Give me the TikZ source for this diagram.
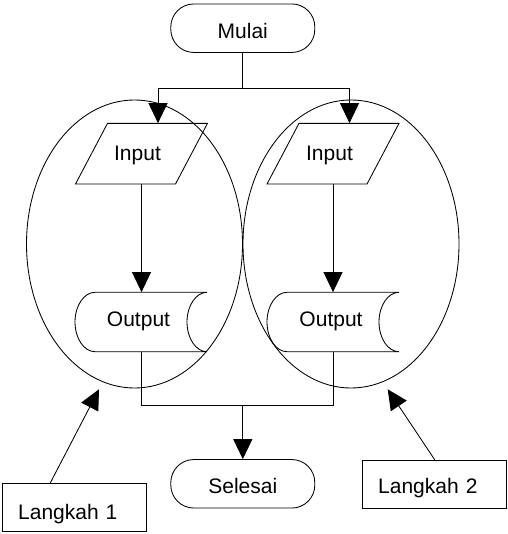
\documentclass[tikz,border=0pt]{standalone}
\usepackage{fontspec}
\setmainfont{Liberation Sans}
\usetikzlibrary{arrows.meta,shapes.geometric}
\begin{document}
\begin{tikzpicture}[x=1pt,y=-1pt,
  every node/.style={font=\fontsize{21}{25}\selectfont, text height=15pt, text depth=0pt, inner sep=0pt},
  ln/.style={line width=0.85pt, draw=black},
  arr/.style={ln, -{Triangle[length=20pt,width=19pt]}},
  term/.style={ln, rounded corners=23pt, minimum width=144pt, minimum height=48.5pt},
  boxlbl/.style={ln, minimum height=48pt, text width=113pt, inner xsep=15.5pt, align=left},
  holdin/.style={minimum width=100pt, minimum height=60.7pt},
  holdout/.style={minimum width=132pt, minimum height=59.4pt},
  grp/.style={ln, ellipse, minimum width=216pt, minimum height=288pt, inner sep=0pt},
]
\useasboundingbox (0,0) rectangle (507,534);

% groups
\node[grp] (e1) at (134.5,244) {};
\node[grp] (e2) at (351,244) {};

% terminators
\node[term] (mulai) at (242.8,28.2) {\raisebox{-3pt}{Mulai}};
\node[term] (selesai) at (242.8,483.8) {\raisebox{-2pt}{Selesai}};

% inputs
\node[holdin] (in1) at (141.5,153.7) {\kern-8pt\raisebox{1pt}{Input}};
\node[holdin] (in2) at (333,153.7) {\kern-7pt\raisebox{1pt}{Input}};
\foreach \n in {in1,in2}
  \draw[ln, shift={(\n.center)}] (-34,-30.35) -- (66,-30.35) -- (34,30.35) -- (-66,30.35) -- cycle;

% outputs
\node[holdout] (out1) at (141,322) {\kern-5pt\raisebox{3.5pt}{Output}};
\node[holdout] (out2) at (333,322) {\kern-4pt\raisebox{3.5pt}{Output}};
\foreach \n in {out1,out2}
  \draw[ln, shift={(\n.center)}] (-46,-29.7) -- (66,-29.7)
    .. controls (55,-29.7) and (46,-16.4) .. (46,0)
    .. controls (46,16.4) and (55,29.7) .. (66,29.7)
    -- (-46,29.7)
    .. controls (-57,29.7) and (-66,16.4) .. (-66,0)
    .. controls (-66,-16.4) and (-57,-29.7) .. (-46,-29.7) -- cycle;

% labels
\node[boxlbl] (l1) at (74.7,507.9) {\raisebox{-4pt}{Langkah 1}};
\node[boxlbl] (l2) at (434.7,484.2) {\raisebox{-2pt}{Langkah 2}};
\coordinate (t1) at (99,389.3);
\coordinate (t2) at (387.7,389.3);

% connectors
\coordinate (split) at (242.8,88);
\coordinate (join) at (242.8,405.7);
\draw[ln] (mulai.south) -- (split);
\draw[arr] (split) -| ([xshift=16.5pt]in1.north);
\draw[arr] (split) -| ([xshift=16.5pt]in2.north);
\draw[arr] (in1.south) -- (in1.south |- out1.north);
\draw[arr] (in2.south) -- (in2.south |- out2.north);
\draw[ln] (out1.south) -- (out1.south |- join) -- (join) -- (out2.south |- join) -- (out2.south);
\draw[arr] (join) -- (selesai.north);
\draw[arr] ([xshift=-24.7pt]l1.north) -- (t1);
\draw[arr] (l2.north) -- (t2);
\end{tikzpicture}
\end{document}
